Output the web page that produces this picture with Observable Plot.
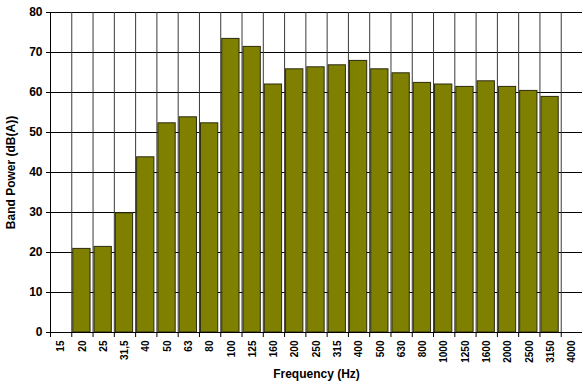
<!DOCTYPE html>
<html>
<head>
<meta charset="utf-8">
<script src="https://cdn.jsdelivr.net/npm/d3@7"></script>
<script src="https://cdn.jsdelivr.net/npm/@observablehq/plot@0.6"></script>
<style>
  html, body { margin: 0; padding: 0; background: #fff; }
  #chart svg { display: block; font-family: "Liberation Sans", Arial, sans-serif; }
</style>
</head>
<body>
<div id="chart"></div>
<script>
// Third-octave band centre frequencies (Hz) and A-weighted band power (dB(A))
const bands = ["15", "20", "25", "31,5", "40", "50", "63", "80", "100", "125", "160", "200", "250",
               "315", "400", "500", "630", "800", "1000", "1250", "1600", "2000", "2500", "3150", "4000"];
const power = [null, 20.9, 21.4, 29.8, 43.8, 52.3, 53.8, 52.3, 73.4, 71.4, 62.0, 65.8, 66.3,
               66.8, 67.9, 65.8, 64.8, 62.4, 62.0, 61.4, 62.8, 61.4, 60.4, 58.9, null];
const yTicks = [0, 10, 20, 30, 40, 50, 60, 70, 80];

// each band occupies one unit on a linear x axis: boundaries at i, centre at i + 0.5
const rows = bands.map((band, i) => ({band, i, value: power[i]}));
const bars = rows.filter(d => d.value != null);
const boundaries = d3.range(bands.length + 1);
const centres = bands.map((_, i) => i + 0.5);
const yMax = yTicks[yTicks.length - 1];

const chart = Plot.plot({
  width: 582,
  height: 385,
  marginTop: 12,
  marginBottom: 53,
  marginLeft: 50,
  marginRight: 0,
  style: {fontFamily: "'Liberation Sans', Arial, sans-serif", background: "#fff", color: "#000"},
  x: {domain: [0, bands.length]},
  y: {domain: [0, yMax]},
  marks: [
    // horizontal grid
    Plot.ruleY(yTicks, {stroke: "#000", strokeWidth: 1}),
    // vertical grid at band boundaries
    Plot.ruleX(boundaries, {y1: 0, y2: yMax, stroke: "#3a3a3a", strokeWidth: 1}),
    // bars
    Plot.rectY(bars, {
      x1: "i", x2: d => d.i + 1, y1: 0, y2: "value",
      insetLeft: 1.5, insetRight: 2.5,
      fill: "#808000", stroke: "#2b2b10", strokeWidth: 1
    }),
    // axes lines
    Plot.ruleX([0], {y1: 0, y2: yMax, stroke: "#000"}),
    Plot.ruleY([0], {stroke: "#000"}),
    Plot.axisY(yTicks, {
      tickSize: 4, tickPadding: 4, fontSize: 12, fontWeight: "bold",
      label: "Band Power (dB(A))", labelArrow: "none", labelAnchor: "center", labelOffset: 44
    }),
    Plot.axisX(boundaries, {tickSize: 5, tickFormat: () => "", label: null}),
    Plot.axisX(centres, {
      tickSize: 0, tickPadding: 8, tickRotate: -90, fontSize: 10, fontWeight: "bold",
      tickFormat: t => bands[Math.floor(t)],
      label: "Frequency (Hz)", labelArrow: "none", labelAnchor: "center", labelOffset: 45
    })
  ]
});

// axis titles in bold, matching the tick labels
d3.select(chart).selectAll("[aria-label='y-axis label'] text, [aria-label='x-axis label'] text")
  .attr("font-weight", "bold").attr("font-size", 12)
  .text(function() { return this.textContent.replace(/\s*[↑→←↓]\s*/g, ""); });

document.getElementById("chart").appendChild(chart);
</script>
</body>
</html>
